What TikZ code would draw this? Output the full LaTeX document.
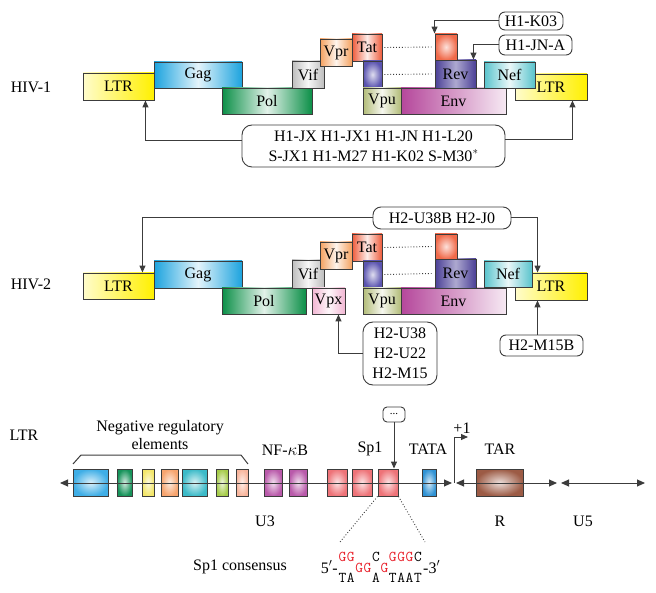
\documentclass[tikz,border=0pt]{standalone}
\usepackage{fontspec}
\setmainfont{Liberation Serif}
\usetikzlibrary{arrows.meta}
\definecolor{linec}{HTML}{3C3C3C}
\definecolor{ltry}{HTML}{FFF000}
\definecolor{gagc}{HTML}{1CA3DE}
\definecolor{polc}{HTML}{0B8F47}
\definecolor{vifc}{HTML}{BDBDBD}
\definecolor{vprc}{HTML}{F5A15F}
\definecolor{tatc}{HTML}{EE5B3A}
\definecolor{purc}{HTML}{5B54B0}
\definecolor{vpuc}{HTML}{B2BC78}
\definecolor{envc}{HTML}{B5479B}
\definecolor{revc}{HTML}{4A3F96}
\definecolor{sqoc}{HTML}{F06A4A}
\definecolor{nefc}{HTML}{58C3CC}
\definecolor{vpxc}{HTML}{F2B6D3}
\definecolor{nbA}{HTML}{3FAEE6}
\definecolor{nbB}{HTML}{16935A}
\definecolor{nbC}{HTML}{F3E66A}
\definecolor{nbD}{HTML}{F7A46E}
\definecolor{nbE}{HTML}{3BBAC8}
\definecolor{nbF}{HTML}{A6CC4A}
\definecolor{nbG}{HTML}{F8B59C}
\definecolor{nfkc}{HTML}{B95AAA}
\definecolor{spc}{HTML}{EE7378}
\definecolor{tatac}{HTML}{2F92D4}
\definecolor{tarc}{HTML}{9C5B45}
\definecolor{seqred}{HTML}{E8202A}
\newcommand\sqR[1]{\makebox[8.4pt]{\textcolor{seqred}{#1}}}
\newcommand\sqK[1]{\makebox[8.4pt]{#1}}
\newcommand\sqE{\makebox[8.4pt]{}}
\begin{document}
\begin{tikzpicture}[x=1pt,y=-1pt,
  lab/.style={font=\fontsize{16}{18}\selectfont, inner sep=0pt},
  gene/.style={draw=linec, line width=0.9pt, inner sep=0pt, font=\fontsize{16}{18}\selectfont},
  hsh/.style={left color=#1, right color=#1, middle color=#1!12},
  rsh/.style={inner color=#1!20, outer color=#1},
  ltrsh/.style={left color=ltry!20, right color=ltry},
  envsh/.style={left color=envc, right color=envc!12},
  tag/.style={draw=linec, line width=0.9pt, rounded corners=6pt, inner sep=0pt, align=center, font=\fontsize{16}{20}\selectfont, fill=white},
  conn/.style={draw=linec, line width=1pt},
  tip/.style={-{Triangle[length=7pt,width=6pt]}},
  dottedl/.style={draw=linec, line width=0.9pt, dotted},
  lbox/.style={draw=linec, line width=0.9pt, minimum height=27, inner sep=0pt},
  seq/.style={inner sep=0pt, anchor=west, font=\ttfamily\fontsize{15}{15}\selectfont},
]
\useasboundingbox (0,0) rectangle (656,593);

% ---------------- HIV-1 ----------------
\node[lab] (hiv1) at (31,87) {HIV-1};
\node[gene, ltrsh, minimum width=71, minimum height=27] (ltr1a) at (118.5,86.5) {LTR};
\node[gene, hsh=gagc, minimum width=88, minimum height=26] (gag1) at (198,75) {Gag};
\node[gene, hsh=polc, minimum width=90, minimum height=26] (pol1) at (267,101) {Pol};
\node[gene, hsh=vifc, minimum width=32, minimum height=27] (vif1) at (308,74.5) {Vif};
\node[gene, hsh=vprc, minimum width=32, minimum height=27] (vpr1) at (336,52.5) {Vpr};
\node[gene, hsh=tatc, minimum width=30, minimum height=27] (tat1) at (367,47.5) {Tat};
\node[gene, rsh=purc, minimum width=19, minimum height=27] (sqp1) at (372.5,74.5) {};
\node[gene, hsh=vpuc, minimum width=38, minimum height=26] (vpu1) at (382,101) {Vpu};
\node[gene, envsh, minimum width=105, minimum height=26] (env1) at (453.5,101) {Env};
\node[gene, left color=revc, right color=revc, middle color=revc!45, minimum width=41, minimum height=28] (rev1) at (455.5,74) {Rev};
\node[gene, rsh=sqoc, minimum width=22, minimum height=26] (sqo1) at (446,47) {};
\node[gene, ltrsh, minimum width=72, minimum height=26] (ltr1b) at (551,87) {LTR};
\node[gene, hsh=nefc, minimum width=51, minimum height=26] (nef1) at (509.5,75) {Nef};
\path[dottedl] ([xshift=2]tat1.east) -- ([xshift=-3]sqo1.west);
\path[dottedl] ([xshift=2]sqp1.east) -- ([xshift=-3]rev1.west);

\node[tag, minimum width=64, minimum height=18] (hk03) at (531,21) {H1-K03};
\node[tag, minimum width=73, minimum height=20] (hjna) at (535.5,45) {H1-JN-A};
\node[tag, rounded corners=10pt, minimum width=263, minimum height=42] (hbig) at (373.5,146)
  {H1-JX H1-JX1 H1-JN H1-L20\\S-JX1 H1-M27 H1-K02 S-M30$^{*}$};
\draw[conn, tip] (hk03.west) -| (sqo1.north west);
\draw[conn, tip] (hjna.west) -| ([xshift=-3]rev1.north east);
\draw[conn, tip] ([yshift=5]hbig.west) -| ([xshift=-9]ltr1a.south east);
\draw[conn, tip] ([yshift=6]hbig.east) -| ([xshift=-15]ltr1b.south east);

% ---------------- HIV-2 ----------------
\node[lab] (hiv2) at (31,284) {HIV-2};
\node[gene, ltrsh, minimum width=71, minimum height=26] (ltr2a) at (118.5,286) {LTR};
\node[gene, hsh=gagc, minimum width=88, minimum height=27] (gag2) at (198,274.5) {Gag};
\node[gene, hsh=polc, minimum width=84, minimum height=26] (pol2) at (264,301) {Pol};
\node[gene, hsh=vifc, minimum width=32, minimum height=28] (vif2) at (308,274) {Vif};
\node[gene, hsh=vprc, minimum width=32, minimum height=27] (vpr2) at (336,255.5) {Vpr};
\node[gene, hsh=vpxc, minimum width=33, minimum height=26] (vpx2) at (328.5,301) {Vpx};
\node[gene, hsh=tatc, minimum width=30, minimum height=27] (tat2) at (367,247.5) {Tat};
\node[gene, rsh=purc, minimum width=19, minimum height=27] (sqp2) at (372.5,274.5) {};
\node[gene, hsh=vpuc, minimum width=38, minimum height=26] (vpu2) at (382,301) {Vpu};
\node[gene, envsh, minimum width=105, minimum height=26] (env2) at (453.5,301) {Env};
\node[gene, left color=revc, right color=revc, middle color=revc!45, minimum width=41, minimum height=29] (rev2) at (455.5,273.5) {Rev};
\node[gene, rsh=sqoc, minimum width=22, minimum height=25] (sqo2) at (446,246.5) {};
\node[gene, ltrsh, minimum width=72, minimum height=27] (ltr2b) at (551,286.5) {LTR};
\node[gene, hsh=nefc, minimum width=48, minimum height=26] (nef2) at (508,274) {Nef};
\path[dottedl] ([xshift=2]tat2.east) -- ([xshift=-3]sqo2.west);
\path[dottedl] ([xshift=2]sqp2.east) -- ([xshift=-3]rev2.west);

\node[tag, rounded corners=8pt, minimum width=138, minimum height=22] (hb2) at (442,218) {H2-U38B H2-J0};
\node[tag, rounded corners=10pt, minimum width=74, minimum height=63] (hb3) at (400,353.5) {H2-U38\\H2-U22\\H2-M15};
\node[tag, minimum width=83, minimum height=21] (hb4) at (541.5,345.5) {H2-M15B};
\draw[conn, tip] (hb2.west) -| ([xshift=-12]ltr2a.north east);
\draw[conn, tip] (hb2.east) -| ([xshift=23]ltr2b.north west);
\draw[conn, tip] (hb3.west) -| ([xshift=-7]vpx2.south east);
\draw[conn, tip] ([xshift=-4]hb4.north) -- ([xshift=-4]hb4.north |- ltr2b.south);

% ---------------- LTR ----------------
\node[lab] (ltrlab) at (24,435) {LTR};
\node[lab, align=center, font=\fontsize{16}{18}\selectfont] (neg) at (160,435) {Negative regulatory\\elements};
\coordinate (brA) at (73,464);
\coordinate (brB) at (81,455);
\coordinate (brC) at (241,455);
\coordinate (brD) at (248,464);
\draw[conn] (brA) -- (brB) -- (brC) -- (brD);

\node[lbox, rsh=nbA, minimum width=35] (n1) at (90.5,482.5) {};
\node[lbox, rsh=nbB, minimum width=15] (n2) at (124.5,482.5) {};
\node[lbox, rsh=nbC, minimum width=12] (n3) at (148,482.5) {};
\node[lbox, rsh=nbD, minimum width=17] (n4) at (169.5,482.5) {};
\node[lbox, rsh=nbE, minimum width=25] (n5) at (194.5,482.5) {};
\node[lbox, rsh=nbF, minimum width=12] (n6) at (222,482.5) {};
\node[lbox, rsh=nbG, minimum width=12] (n7) at (242,482.5) {};
\node[lbox, rsh=nfkc, minimum width=18] (nf1) at (273,482.5) {};
\node[lbox, rsh=nfkc, minimum width=18] (nf2) at (298,482.5) {};
\node[lbox, rsh=spc, minimum width=20] (sp1) at (337,482.5) {};
\node[lbox, rsh=spc, minimum width=20] (sp2) at (362,482.5) {};
\node[lbox, rsh=spc, minimum width=20] (sp3) at (388,482.5) {};
\node[lbox, rsh=tatac, minimum width=14] (tata) at (429,482.5) {};
\node[lbox, rsh=tarc, minimum width=47] (tar) at (499.5,482.5) {};

\coordinate (l0) at (60,483);
\coordinate (l1) at (452,483);
\coordinate (l2) at (456,483);
\coordinate (l3) at (557,483);
\coordinate (l4) at (561,483);
\coordinate (l5) at (645,483);
\draw[conn, {Triangle[length=8pt,width=7pt]}-{Triangle[length=8pt,width=7pt]}] (l0) -- (l1);
\draw[conn, {Triangle[length=8pt,width=7pt]}-{Triangle[length=8pt,width=7pt]}] (l2) -- (l3);
\draw[conn, {Triangle[length=8pt,width=7pt]}-{Triangle[length=8pt,width=7pt]}] (l4) -- (l5);
\coordinate (p0) at (454,483);
\coordinate (p1) at (468,437);
\draw[conn, tip] (p0) |- (p1);

\node[lab] (nfkb) at (285,450) {NF-$\kappa$B};
\node[lab] (sp1lab) at (370,449) {Sp1};
\node[lab] (tatalab) at (428,449) {TATA};
\node[lab] (tarlab) at (500,449) {TAR};
\node[lab] (plus1) at (462,428) {+1};
\node[lab] (u3) at (265,521) {U3};
\node[lab] (rlab) at (500,521) {R};
\node[lab] (u5) at (583,521) {U5};

\node[tag, rounded corners=4pt, minimum width=22, minimum height=15, font=\fontsize{11}{11}\selectfont] (dots) at (394,414.5) {\raisebox{2pt}{...}};
\draw[conn, tip] (dots.south) -- (dots.south |- sp3.north);

\coordinate (dA) at (340,542);
\coordinate (dB) at (425,542);
\draw[dottedl] (sp3.south west) -- (dA);
\draw[dottedl] (sp3.south east) -- (dB);

\node[lab] (cons) at (240,567) {Sp1 consensus};
\node[lab, anchor=east] (five) at (338,567) {5$'$-};
\node[seq] (rowT) at (338,557)
  {\sqR{G}\sqR{G}\sqE\sqE\sqK{C}\sqE\sqR{G}\sqR{G}\sqR{G}\sqK{C}};
\node[seq] (rowM) at (338,568)
  {\sqE\sqE\sqR{G}\sqR{G}\sqE\sqR{G}\sqE\sqE\sqE\sqE};
\node[seq] (rowB) at (338,578)
  {\sqK{T}\sqK{A}\sqE\sqE\sqK{A}\sqE\sqK{T}\sqK{A}\sqK{A}\sqK{T}};
\node[lab, anchor=west] (three) at (423,567) {-3$'$};
\end{tikzpicture}
\end{document}
